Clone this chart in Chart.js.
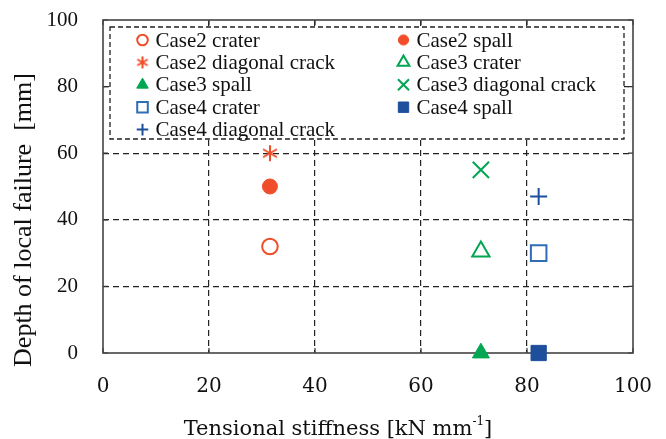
<!DOCTYPE html>
<html>
<head>
<meta charset="utf-8">
<script src="https://cdn.jsdelivr.net/npm/chart.js@4.4.1/dist/chart.umd.min.js"></script>
<style>
  html, body { margin: 0; padding: 0; background: #fff; }
  #wrap { width: 666px; height: 439px; position: relative; }
</style>
</head>
<body>
<div id="wrap"><canvas id="chart"></canvas></div>
<script>
// data
const seriesLabels = [
  'Case2 crater', 'Case2 spall', 'Case2 diagonal crack',
  'Case3 crater', 'Case3 spall', 'Case3 diagonal crack',
  'Case4 crater', 'Case4 spall', 'Case4 diagonal crack'
];
const stiffnessValues = [31.5, 31.5, 31.5, 71.3, 71.3, 71.3, 82.2, 82.2, 82.2];
const depthValues = [32, 50, 60, 30.5, 0, 55, 30, 0, 47];
const xTicks = [0, 20, 40, 60, 80, 100];
const yTicks = [0, 20, 40, 60, 80, 100];

const RED = '#F04E2A';
const GREEN = '#00A651';
const BLUE = '#1D4F9C';
const SERIF = '"Liberation Serif", "Times New Roman", serif';
const WIDE = '"DejaVu Serif", serif';

// 6-arm asterisk marker
function makeAsterisk(size, color) {
  const c = document.createElement('canvas');
  c.width = size; c.height = size;
  const g = c.getContext('2d');
  g.strokeStyle = color;
  g.lineWidth = 2;
  const r = size / 2 - 1;
  g.beginPath();
  for (let i = 0; i < 3; i++) {
    const a = Math.PI / 2 + i * Math.PI / 3;
    g.moveTo(size / 2 + Math.cos(a) * r, size / 2 + Math.sin(a) * r);
    g.lineTo(size / 2 - Math.cos(a) * r, size / 2 - Math.sin(a) * r);
  }
  g.stroke();
  return c;
}

const styles = [
  { pointStyle: 'circle', radius: 7.8, bg: '#fff', border: RED, bw: 2 },
  { pointStyle: 'circle', radius: 7.5, bg: RED, border: RED, bw: 1 },
  { pointStyle: makeAsterisk(18, RED), radius: 9, bg: RED, border: RED, bw: 2 },
  { pointStyle: 'triangle', radius: 10, bg: '#fff', border: GREEN, bw: 2 },
  { pointStyle: 'triangle', radius: 9.8, bg: GREEN, border: GREEN, bw: 1 },
  { pointStyle: 'crossRot', radius: 11.5, bg: GREEN, border: GREEN, bw: 2 },
  { pointStyle: 'rect', radius: 11, bg: '#fff', border: '#2F6DB5', bw: 2 },
  { pointStyle: 'rect', radius: 10.8, bg: BLUE, border: BLUE, bw: 1 },
  { pointStyle: 'cross', radius: 8.5, bg: BLUE, border: BLUE, bw: 2 }
];
const legendAsterisk = makeAsterisk(14, RED);

const datasets = seriesLabels.map((label, i) => ({
  label: label,
  data: [{ x: stiffnessValues[i], y: depthValues[i] }],
  pointStyle: styles[i].pointStyle,
  pointRadius: styles[i].radius,
  pointHoverRadius: styles[i].radius,
  backgroundColor: styles[i].bg,
  borderColor: styles[i].border,
  pointBorderWidth: styles[i].bw,
  clip: false
}));

// frame, inward ticks, legend box and axis titles
const decor = {
  id: 'decor',
  beforeDatasetsDraw(chart) {
    const { ctx, chartArea: a, scales } = chart;
    ctx.save();
    // inward tick marks
    ctx.strokeStyle = '#333';
    ctx.lineWidth = 1.2;
    ctx.beginPath();
    xTicks.forEach(v => {
      const px = scales.x.getPixelForValue(v);
      ctx.moveTo(px, a.bottom); ctx.lineTo(px, a.bottom - 5);
      ctx.moveTo(px, a.top); ctx.lineTo(px, a.top + 5);
    });
    yTicks.forEach(v => {
      const py = scales.y.getPixelForValue(v);
      ctx.moveTo(a.left, py); ctx.lineTo(a.left + 5, py);
      ctx.moveTo(a.right, py); ctx.lineTo(a.right - 5, py);
    });
    ctx.stroke();

    // legend box
    const bx = a.left + 7, by = a.top + 7, bw = a.right - a.left - 16, bh = 112;
    ctx.fillStyle = '#fff';
    ctx.fillRect(bx, by, bw, bh);
    ctx.setLineDash([5, 3]);
    ctx.strokeStyle = '#222';
    ctx.lineWidth = 1.3;
    ctx.strokeRect(bx, by, bw, bh);
    ctx.setLineDash([]);

    ctx.font = '21px ' + SERIF;
    ctx.textBaseline = 'middle';
    ctx.textAlign = 'left';
    const colX = [a.left + 39.5, a.left + 300.5];
    chart.data.datasets.forEach((ds, i) => {
      const col = i % 2, row = Math.floor(i / 2);
      const mx = colX[col], my = a.top + 20 + row * 22.4;
      ctx.fillStyle = ds.backgroundColor;
      ctx.strokeStyle = ds.borderColor;
      ctx.lineWidth = ds.pointBorderWidth;
      const ps = (i === 2) ? legendAsterisk : ds.pointStyle;
      Chart.helpers.drawPoint(ctx, {
        pointStyle: ps,
        radius: ds.pointRadius * 0.68,
        rotation: 0,
        borderWidth: ds.pointBorderWidth
      }, mx, my);
      ctx.fillStyle = '#111';
      ctx.fillText(ds.label, mx + 13, my + 1);
    });

    // frame
    ctx.strokeStyle = '#444';
    ctx.lineWidth = 1.6;
    ctx.strokeRect(a.left, a.top, a.right - a.left, a.bottom - a.top);

    // x axis title with superscript
    ctx.fillStyle = '#111';
    ctx.textBaseline = 'alphabetic';
    const main = 'Tensional stiffness [kN mm', sup = '-1', tail = ']';
    ctx.font = '21px ' + WIDE;
    const w1 = ctx.measureText(main).width;
    const w3 = ctx.measureText(tail).width;
    ctx.font = '12px ' + WIDE;
    const w2 = ctx.measureText(sup).width;
    const sx = 338 - (w1 + w2 + w3) / 2;
    const base = 435;
    ctx.font = '21px ' + WIDE;
    ctx.fillText(main, sx, base);
    ctx.fillText(tail, sx + w1 + w2, base);
    ctx.font = '12px ' + WIDE;
    ctx.fillText(sup, sx + w1, base - 10);

    // y axis title
    ctx.translate(24, 220);
    ctx.rotate(-Math.PI / 2);
    ctx.font = '26px ' + SERIF;
    ctx.textAlign = 'center';
    ctx.textBaseline = 'middle';
    ctx.fillText('Depth of local failure  [mm]', 0, 0);
    ctx.restore();
  }
};

const gridColor = c => (c.tick && (c.tick.value === 0 || c.tick.value === 100)) ? 'rgba(0,0,0,0)' : '#222';

new Chart(document.getElementById('chart'), {
  type: 'scatter',
  data: { datasets: datasets },
  plugins: [decor],
  options: {
    responsive: true,
    maintainAspectRatio: false,
    animation: false,
    layout: { padding: { left: 0, right: 33, top: 20, bottom: 0 } },
    plugins: {
      legend: { display: false },
      tooltip: { enabled: false }
    },
    scales: {
      x: {
        type: 'linear',
        min: 0, max: 100,
        afterBuildTicks: s => { s.ticks = xTicks.map(v => ({ value: v })); },
        afterFit: s => { s.height = 86; s.paddingLeft = 0; s.paddingRight = 0; },
        grid: { color: gridColor, lineWidth: 1.2, drawTicks: false },
        border: { display: false, dash: [6, 4] },
        ticks: { color: '#111', padding: 22, font: { family: WIDE, size: 20 } }
      },
      y: {
        type: 'linear',
        min: 0, max: 100,
        afterBuildTicks: s => { s.ticks = yTicks.map(v => ({ value: v })); },
        afterFit: s => { s.width = 103; s.paddingTop = 0; s.paddingBottom = 0; },
        grid: { color: gridColor, lineWidth: 1.2, drawTicks: false },
        border: { display: false, dash: [6, 4] },
        ticks: { color: '#111', padding: 25, font: { family: SERIF, size: 21 } }
      }
    }
  }
});
</script>
</body>
</html>
